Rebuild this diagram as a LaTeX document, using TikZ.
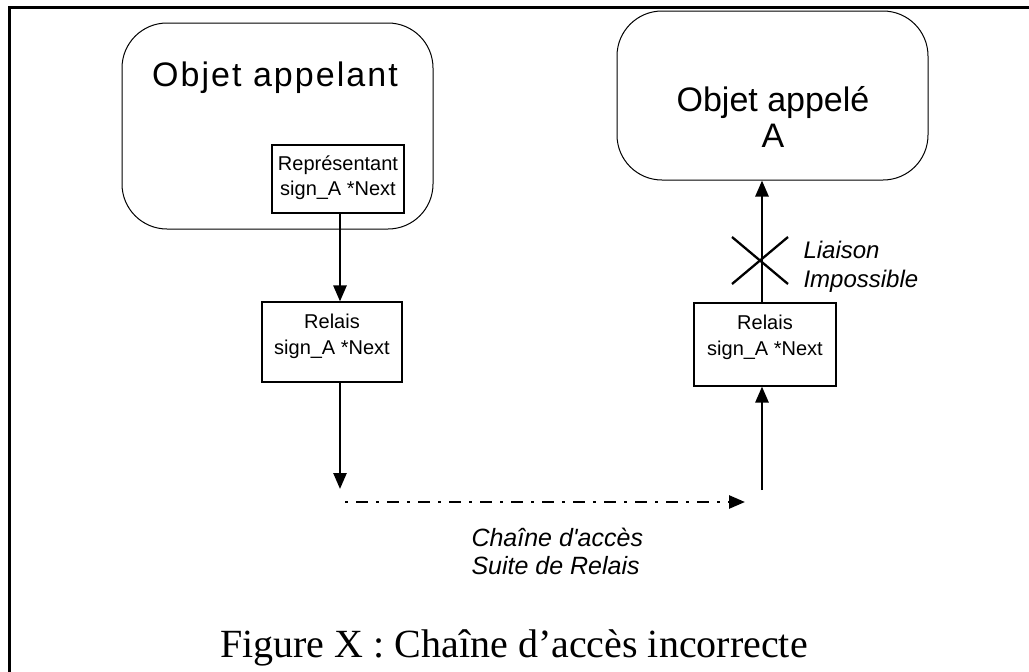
\documentclass[tikz,border=0pt]{standalone}
\usepackage{fontspec}
\setmainfont{Liberation Sans}
\newfontfamily\captionserif{Liberation Serif}
\newfontfamily\widesans[LetterSpace=6]{Liberation Sans}
\usetikzlibrary{arrows.meta,calc}
\tikzset{
  objbox/.style={draw, line width=1pt, rounded corners=45pt},
  relaybox/.style={draw, line width=1.1pt, align=center, inner sep=0pt},
  link/.style={line width=2.6pt, -{Triangle[length=16pt,width=13pt]}},
  plainlink/.style={line width=2.3pt},
  chain/.style={line width=2.6pt, dash pattern=on 3pt off 8pt on 12pt off 8pt,
                -{Triangle[length=16pt,width=13pt]}},
  boxtext/.style={font=\fontsize{20}{26}\selectfont, align=center},
  note/.style={font=\fontsize{24}{29}\selectfont\itshape, align=left, anchor=west},
}
\begin{document}
\begin{tikzpicture}[x=1pt,y=-1pt]
\useasboundingbox (0,0) rectangle (1029,672);
% outer frame (top and left edges)
\draw[line width=3pt] (9,672) -- (9,7) -- (1029,7);

% calling object
\node[objbox, minimum width=311pt, minimum height=206pt] (appelant) at (277.5,126) {};
\node[font=\widesans\fontsize{34}{40}\selectfont] (appelantTxt) at (275,78) {Objet appelant};
\node[relaybox, minimum width=132pt, minimum height=68pt] (rep) at (338,179) {};
\node[boxtext, font=\fontsize{20}{25}\selectfont] (repTxt) at (338,178) {Représentant\\sign\_A *Next};

% called object
\node[objbox, minimum width=311pt, minimum height=169pt] (appele) at (772.5,95.5) {};
\node[font=\fontsize{34}{36}\selectfont, align=center] (appeleTxt) at (773,117) {Objet appelé\\A};

% relays
\node[relaybox, minimum width=140pt, minimum height=80pt] (relL) at (332,342) {};
\node[boxtext] (relLTxt) at (332,336) {Relais\\sign\_A *Next};
\node[relaybox, minimum width=142pt, minimum height=83pt] (relR) at (765,344.5) {};
\node[boxtext] (relRTxt) at (765,337) {Relais\\sign\_A *Next};

% connectors
\coordinate (leftX) at (340,0);
\coordinate (rightX) at (762,0);
\coordinate (leftFoot) at (340,489);
\coordinate (rightFoot) at (762,490);
\coordinate (chainStart) at (345,502);
\coordinate (chainEnd) at (745,502);

\draw[link] (rep.south -| leftX) -- (relL.north -| leftX);
\draw[link] (relL.south -| leftX) -- (leftFoot);
\draw[chain] (chainStart) -- (chainEnd);
\draw[link] (rightFoot) -- (relR.south -| rightX);
\draw[link] (relR.north -| rightX) -- (appele.south -| rightX);

% broken link mark
\coordinate (cross) at (760,260);
\draw[plainlink] ($(cross)+(-28,-23)$) -- ($(cross)+(28,24)$);
\draw[plainlink] ($(cross)+(-28,24)$) -- ($(cross)+(28,-23)$);

% labels
\node[note] (liaison) at (800,267) {Liaison\\Impossible};
\node[note, font=\fontsize{25}{28}\selectfont\itshape] (chainTxt) at (468,551) {Chaîne d\textquotesingle accès\\Suite de Relais};

% caption
\node[font=\captionserif\fontsize{40}{44}\selectfont] (caption) at (514,648) {Figure X : Chaîne d’accès incorrecte};
\end{tikzpicture}
\end{document}
